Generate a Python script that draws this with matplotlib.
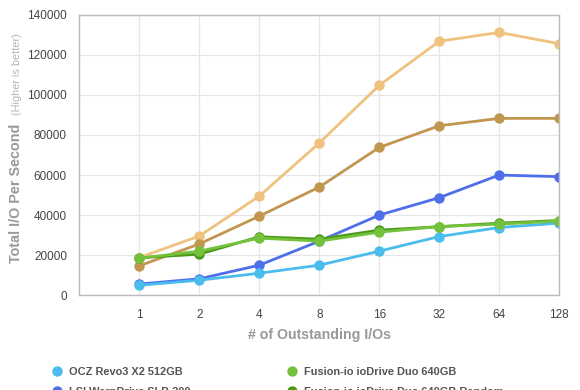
import matplotlib.pyplot as plt
import numpy as np

plt.rcParams["font.family"] = ["Liberation Sans", "DejaVu Sans"]

# outstanding I/O queue depths (categorical x axis)
queue_depths = ["1", "2", "4", "8", "16", "32", "64", "128"]

revo3 = [5000, 7500, 11000, 15000, 22000, 29300, 33800, 36000]
warpdrive = [5600, 8200, 15000, 27000, 40000, 48700, 60000, 59200]
iodrive = [18500, 22000, 28500, 27000, 31500, 34300, 35500, 37000]
iodrive_random = [18700, 20500, 29200, 28000, 32500, 34200, 36000, 37300]
light_orange = [18800, 29600, 49500, 76000, 104800, 126800, 131200, 125600]
brown = [14700, 25600, 39500, 54000, 73800, 84600, 88300, 88300]

series = [
    ("_light_orange", light_orange, "#F0C27F"),
    ("_brown", brown, "#C1964F"),
    ("LSI WarpDrive SLP-300", warpdrive, "#4F6FEA"),
    ("OCZ Revo3 X2 512GB", revo3, "#4BBCEE"),
    ("Fusion-io ioDrive Duo 640GB Random", iodrive_random, "#4C9A1C"),
    ("Fusion-io ioDrive Duo 640GB", iodrive, "#74C23C"),
]

fig = plt.figure(figsize=(5.8, 3.9), dpi=100)
ax = fig.add_axes([0.137, 0.243, 0.827, 0.719])

x = np.arange(len(queue_depths))
handles = {}
for name, vals, col in series:
    (h,) = ax.plot(x, vals, color=col, lw=2.0, marker="o", ms=7.5,
                   markeredgewidth=0, solid_capstyle="round")
    handles[name] = h

ax.set_xlim(-1, len(queue_depths) - 1)
ax.set_ylim(0, 140000)
ax.set_xticks(x)
ax.set_xticklabels(queue_depths)
ax.set_yticks(np.arange(0, 140001, 20000))
ax.tick_params(axis="both", length=0, labelsize=8.5, colors="#444444")
ax.tick_params(axis="x", pad=10)
ax.tick_params(axis="y", pad=9)
ax.grid(True, color="#E6E6E6", lw=0.9)
ax.set_axisbelow(True)
for s in ax.spines.values():
    s.set_color("#BBBBBB")
    s.set_linewidth(1.0)

ax.set_xlabel("# of Outstanding I/Os", fontsize=10.2, fontweight="bold",
              color="#999999", labelpad=5)

fig.text(0.028, 0.505, "Total I/O Per Second", rotation=90, ha="center",
         va="center", fontsize=10.4, fontweight="bold", color="#999999")
fig.text(0.030, 0.81, "(Higher is better)", rotation=90, ha="center",
         va="center", fontsize=7.8, color="#B5B5B5")

order = ["OCZ Revo3 X2 512GB", "LSI WarpDrive SLP-300",
         "Fusion-io ioDrive Duo 640GB", "Fusion-io ioDrive Duo 640GB Random"]
leg_handles = [
    plt.Line2D([], [], ls="none", marker="o", ms=7.5, markeredgewidth=0,
               color=handles[n].get_color()) for n in order
]
fig.legend(leg_handles, order, ncol=2, loc="upper left",
           bbox_to_anchor=(0.072, 0.085), frameon=False,
           labelcolor="#555555", prop={"weight": "bold", "size": 7.9},
           handletextpad=0.6, columnspacing=8.7, labelspacing=0.95,
           handlelength=1.0)

fig.savefig("out.png", dpi=100, facecolor="white")
